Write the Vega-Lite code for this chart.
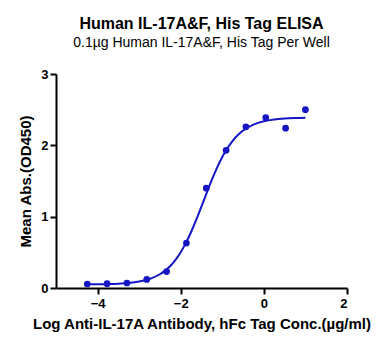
{
  "$schema": "https://vega.github.io/schema/vega-lite/v6.json",
  "width": 291,
  "height": 214,
  "autosize": "none",
  "padding": {"left": 56, "top": 74, "right": 45, "bottom": 62},
  "background": "white",
  "title": {
    "text": "Human IL-17A&F, His Tag ELISA",
    "subtitle": "0.1µg Human IL-17A&F, His Tag Per Well",
    "font": "Liberation Sans",
    "fontSize": 16,
    "fontWeight": "bold",
    "subtitleFont": "Liberation Sans",
    "subtitleFontSize": 14,
    "subtitleColor": "black",
    "color": "black",
    "anchor": "middle",
    "offset": 18,
    "subtitlePadding": 4
  },
  "config": {
    "view": {"stroke": null},
    "axis": {
      "domainColor": "black",
      "domainWidth": 2,
      "tickColor": "black",
      "tickWidth": 2,
      "tickSize": 6,
      "grid": false,
      "labelFont": "Liberation Sans",
      "labelFontWeight": "bold",
      "labelFontSize": 13,
      "labelColor": "black",
      "titleFont": "Liberation Sans",
      "titleFontWeight": "bold",
      "titleFontSize": 15,
      "titleColor": "black"
    }
  },
  "datasets": {
    "points": [
      {"x": -4.248, "y": 0.056},
      {"x": -3.771, "y": 0.06},
      {"x": -3.294, "y": 0.07},
      {"x": -2.817, "y": 0.12},
      {"x": -2.34, "y": 0.23},
      {"x": -1.863, "y": 0.63},
      {"x": -1.385, "y": 1.40},
      {"x": -0.908, "y": 1.93},
      {"x": -0.431, "y": 2.26},
      {"x": 0.046, "y": 2.39},
      {"x": 0.523, "y": 2.24},
      {"x": 1.0, "y": 2.50}
    ],
    "curve": [
      {"x": -4.25, "y": 0.052},
      {"x": -4.0, "y": 0.053},
      {"x": -3.75, "y": 0.056},
      {"x": -3.5, "y": 0.061},
      {"x": -3.25, "y": 0.071},
      {"x": -3.0, "y": 0.091},
      {"x": -2.75, "y": 0.127},
      {"x": -2.5, "y": 0.193},
      {"x": -2.375, "y": 0.244},
      {"x": -2.25, "y": 0.309},
      {"x": -2.125, "y": 0.395},
      {"x": -2.0, "y": 0.501},
      {"x": -1.875, "y": 0.632},
      {"x": -1.75, "y": 0.785},
      {"x": -1.625, "y": 0.958},
      {"x": -1.5, "y": 1.144},
      {"x": -1.375, "y": 1.334},
      {"x": -1.25, "y": 1.518},
      {"x": -1.125, "y": 1.687},
      {"x": -1.0, "y": 1.836},
      {"x": -0.875, "y": 1.962},
      {"x": -0.75, "y": 2.064},
      {"x": -0.625, "y": 2.145},
      {"x": -0.5, "y": 2.208},
      {"x": -0.25, "y": 2.291},
      {"x": 0.0, "y": 2.337},
      {"x": 0.25, "y": 2.362},
      {"x": 0.5, "y": 2.375},
      {"x": 0.75, "y": 2.382},
      {"x": 1.0, "y": 2.386}
    ]
  },
  "layer": [
    {
      "data": {"name": "curve"},
      "mark": {"type": "line", "color": "#1515c4", "strokeWidth": 2, "interpolate": "monotone"},
      "encoding": {
        "x": {
          "field": "x", "type": "quantitative",
          "scale": {"domain": [-5, 2], "nice": false},
          "axis": {"values": [-4, -2, 0, 2], "format": "d", "title": "Log Anti-IL-17A Antibody, hFc Tag Conc.(µg/ml)", "titlePadding": 6, "labelPadding": 3}
        },
        "y": {
          "field": "y", "type": "quantitative",
          "scale": {"domain": [0, 3], "nice": false},
          "axis": {"values": [0, 1, 2, 3], "format": "d", "title": "Mean Abs.(OD450)", "titlePadding": 7, "labelPadding": 2}
        }
      }
    },
    {
      "data": {"name": "points"},
      "mark": {"type": "circle", "color": "#1515c4", "opacity": 1, "size": 45},
      "encoding": {
        "x": {"field": "x", "type": "quantitative"},
        "y": {"field": "y", "type": "quantitative"}
      }
    }
  ]
}
